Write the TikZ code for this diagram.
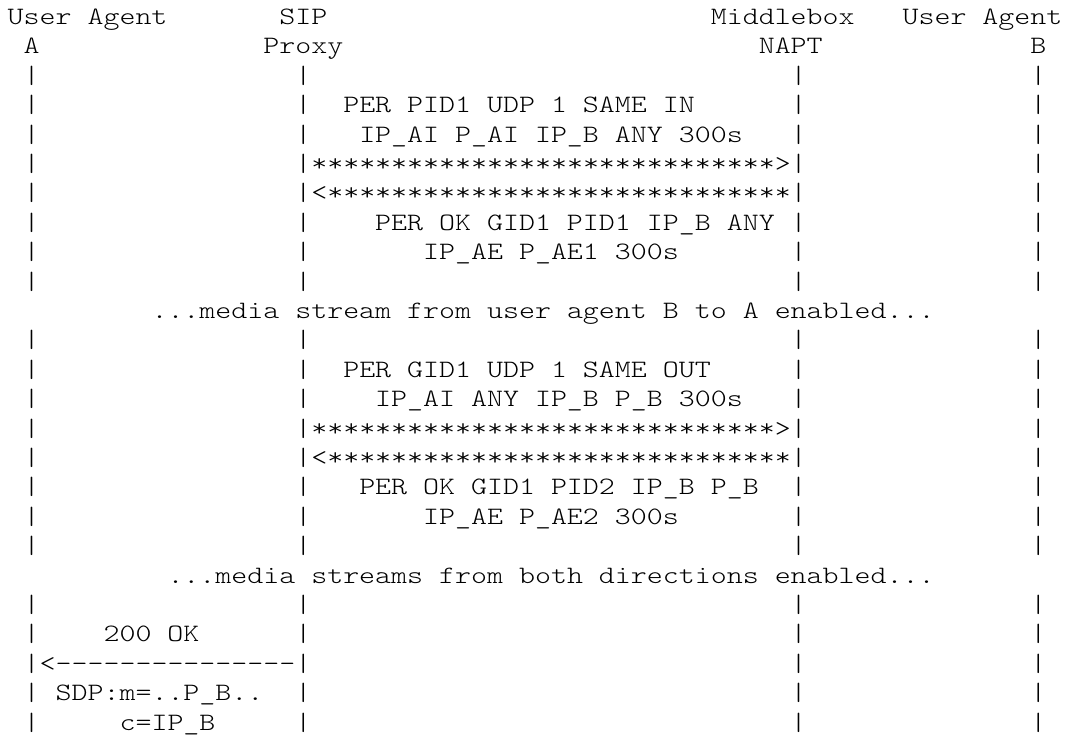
\documentclass[tikz,border=0pt]{standalone}
\usepackage{fontspec}
\newfontfamily\asciifont{lmmonolt10-regular.otf}[FakeStretch=1.2176,Ligatures=TeXOff]
\newcommand\asc[4]{\node[asc] (#1) at ({7.7+15.98*(#2)},{-24.5-29.4*((#3)-1)}) {#4};}
\begin{document}
\begin{tikzpicture}[x=1pt,y=1pt,
  asc/.style={anchor=base west,inner sep=0pt,outer sep=0pt,
    font=\asciifont\fontsize{25}{29.4}\selectfont,text=black}]
\useasboundingbox[fill=white] (0,0) rectangle (1065,-735);
% headers
\asc{h1}{0}{1}{User Agent}
\asc{h2}{17}{1}{SIP}
\asc{h3}{44}{1}{Middlebox}
\asc{h4}{56}{1}{User Agent}
\asc{h5}{1}{2}{A}
\asc{h6}{16}{2}{Proxy}
\asc{h7}{47}{2}{NAPT}
\asc{h8}{64}{2}{B}
% lifelines
\foreach \r in {3,...,10,12,13,...,19,21,22,...,25}
  \foreach \c/\n in {1/a,18/p,49/m,64/b}
    {\asc{pipe-\n-\r}{\c}{\r}{|}}
% first request
\asc{m1}{21}{4}{PER PID1 UDP 1 SAME IN}
\asc{m2}{22}{5}{IP\_AI P\_AI IP\_B ANY 300s}
\asc{m3}{19}{6}{*****************************>}
\asc{m4}{19}{7}{<*****************************}
\asc{m5}{23}{8}{PER OK GID1 PID1 IP\_B ANY}
\asc{m6}{26}{9}{IP\_AE P\_AE1 300s}
\asc{n1}{9}{11}{...media stream from user agent B to A enabled...}
% second request
\asc{m7}{21}{13}{PER GID1 UDP 1 SAME OUT}
\asc{m8}{23}{14}{IP\_AI ANY IP\_B P\_B 300s}
\asc{m9}{19}{15}{*****************************>}
\asc{m10}{19}{16}{<*****************************}
\asc{m11}{22}{17}{PER OK GID1 PID2 IP\_B P\_B}
\asc{m12}{26}{18}{IP\_AE P\_AE2 300s}
\asc{n2}{10}{20}{...media streams from both directions enabled...}
% 200 OK
\asc{s1}{6}{22}{200 OK}
\asc{s2}{2}{23}{<---------------}
\asc{s3}{3}{24}{SDP:m=..P\_B..}
\asc{s4}{7}{25}{c=IP\_B}
\end{tikzpicture}
\end{document}
